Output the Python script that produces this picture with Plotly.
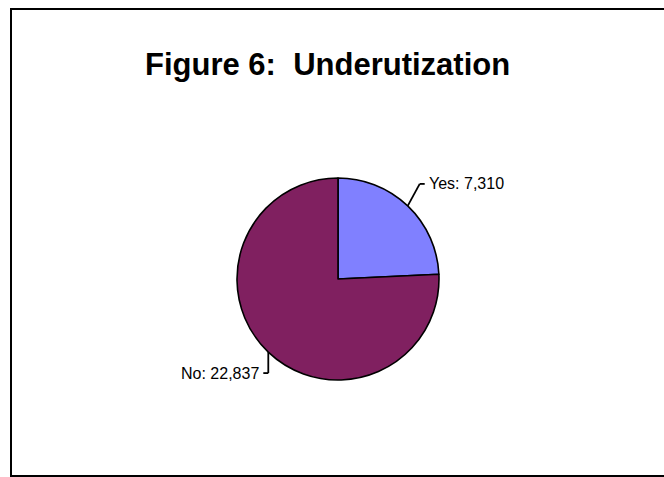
import math
import plotly.graph_objects as go

# ---- data ----
categories = ["Yes", "No"]
values = [7310, 22837]
colors = ["#8080FF", "#802060"]
title_text = "Figure 6:\u00a0 Underutization"

W, H = 664, 477
cx, cy, R = 338, 279, 101  # pie centre and radius in pixels

def px(x):
    return x / W

def py(y):
    return 1 - y / H

fig = go.Figure()
fig.add_trace(go.Pie(
    labels=categories, values=values, sort=False, direction="clockwise",
    rotation=0, textinfo="none", hoverinfo="label+value",
    marker=dict(colors=colors, line=dict(color="black", width=1.6)),
    domain=dict(x=[px(cx - R), px(cx + R)], y=[py(cy + R), py(cy - R)]),
    showlegend=False,
))

# label leader styles: offsets (pixels) from slice-edge point to the kink, tick length, side
label_style = {
    "Yes": dict(dx=12, dy=-22, tick=5, side="right"),
    "No": dict(dx=0, dy=21, tick=-5, side="left"),
}

shapes = []
annotations = []
total = sum(values)
cum = 0
for cat, v in zip(categories, values):
    mid = (cum + v / 2) / total * 2 * math.pi
    cum += v
    ex = cx + R * math.sin(mid)
    ey = cy - R * math.cos(mid)
    st = label_style[cat]
    kx, ky = ex + st["dx"], ey + st["dy"]
    tx = kx + st["tick"]
    for (x0, y0, x1, y1) in [(ex, ey, kx, ky), (kx, ky, tx, ky)]:
        shapes.append(dict(type="line", xref="paper", yref="paper",
                           x0=px(x0), y0=py(y0), x1=px(x1), y1=py(y1),
                           line=dict(color="black", width=1.8)))
    if st["side"] == "right":
        ax, anchor = tx + 2, "left"
    else:
        ax, anchor = tx - 2, "right"
    annotations.append(dict(
        xref="paper", yref="paper", x=px(ax), y=py(ky),
        xanchor=anchor, yanchor="middle", showarrow=False,
        text=f"{cat}: {v:,}",
        font=dict(family="Liberation Sans, Arial", size=16, color="black"),
    ))

annotations.append(dict(
    xref="paper", yref="paper", x=px(327), y=py(64),
    xanchor="center", yanchor="middle", showarrow=False,
    text=f"<b>{title_text}</b>",
    font=dict(family="Liberation Sans, Arial", size=31, color="black"),
))

# outer border
shapes.append(dict(type="rect", xref="paper", yref="paper",
                   x0=px(11), x1=1.02, y0=py(476), y1=py(9),
                   line=dict(color="black", width=2), fillcolor="rgba(0,0,0,0)"))

fig.update_layout(
    width=W, height=H, margin=dict(l=0, r=0, t=0, b=0),
    paper_bgcolor="white", plot_bgcolor="white",
    shapes=shapes, annotations=annotations,
)

fig.write_html("out.html")
